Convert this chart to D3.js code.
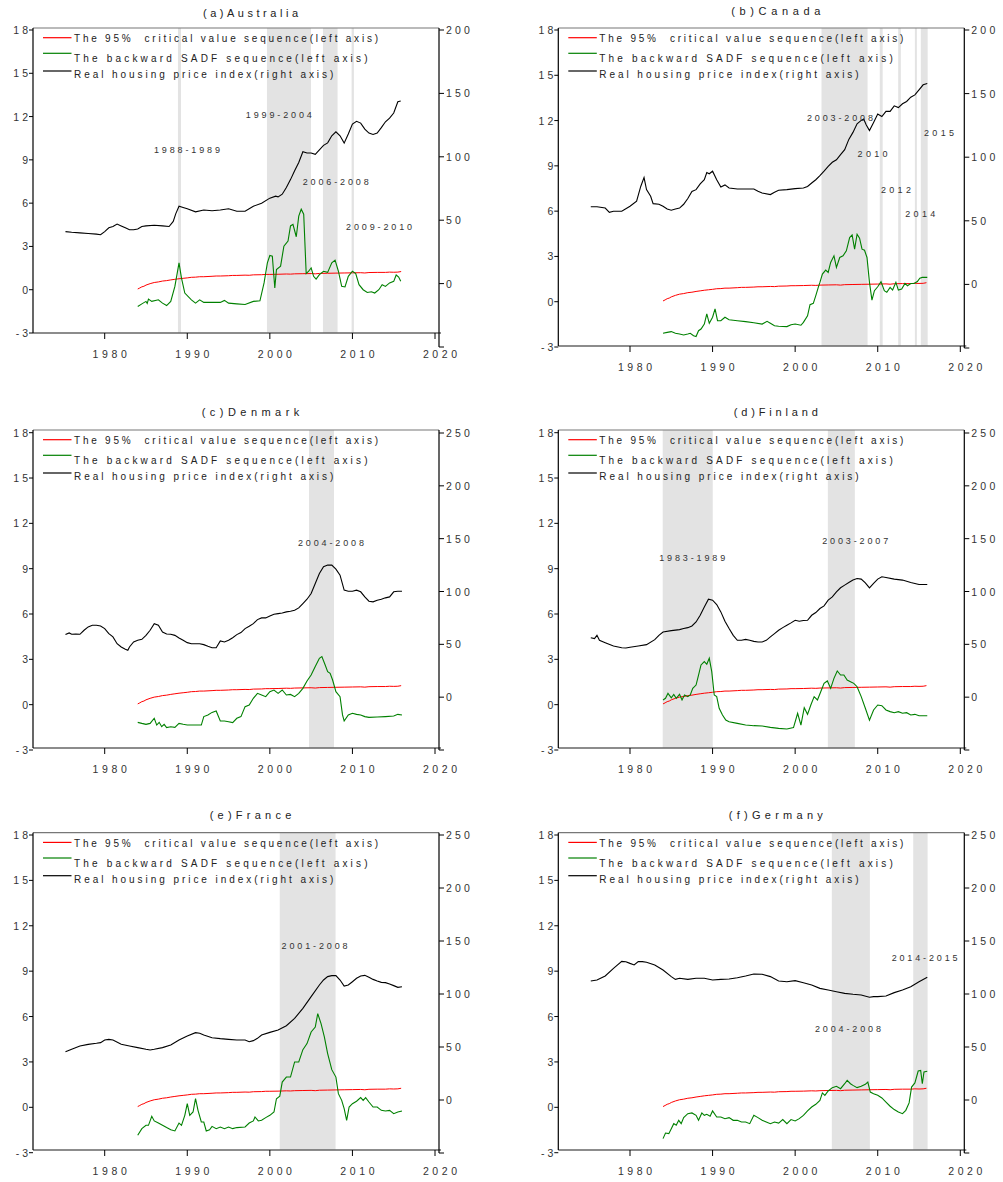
<!DOCTYPE html>
<html>
<head>
<meta charset="utf-8">
<script src="https://cdn.jsdelivr.net/npm/d3@7"></script>
<style>
  body { margin: 0; background: #fff; }
  svg { display: block; font-family: "Liberation Sans", Arial, sans-serif; }
  text { white-space: pre; }
</style>
</head>
<body>
<svg id="chart" width="1003" height="1182"></svg>
<script>
// ---- tick labels / legend ----
const xTicks = [1980, 1990, 2000, 2010, 2020];
const leftTicks = [-3, 0, 3, 6, 9, 12, 15, 18];
const rightTicks200 = [-50, 0, 50, 100, 150, 200];
const rightTicks250 = [-50, 0, 50, 100, 150, 200, 250];
const legendLabels = [
  "The 95%  critical value sequence(left axis)",
  "The backward SADF sequence(left axis)",
  "Real housing price index(right axis)"
];

// 95% critical value sequence (same sample length for every country)
const critical = [[1984,0.05],[1984.25,0.12],[1984.5,0.2],[1984.75,0.24],[1985,0.32],[1985.5,0.42],[1986,0.5],
  [1986.5,0.54],[1987,0.6],[1987.5,0.63],[1988,0.68],[1988.5,0.72],[1989,0.76],[1989.5,0.79],[1990,0.82],
  [1990.5,0.86],[1991,0.87],[1991.5,0.9],[1992,0.9],[1993,0.93],[1993.5,0.95],[1994,0.95],[1995,0.97],
  [1995.5,0.99],[1996,0.99],[1997,1.01],[1997.5,1.0],[1998,1.03],[1999,1.04],[1999.5,1.06],[2000,1.06],
  [2001,1.07],[2002,1.09],[2002.5,1.08],[2003,1.1],[2004,1.11],[2005,1.12],[2005.5,1.1],[2006,1.13],
  [2007,1.14],[2008,1.15],[2009,1.16],[2010,1.17],[2011,1.18],[2011.5,1.16],[2012,1.19],[2013,1.2],
  [2014,1.2],[2014.5,1.22],[2015,1.21],[2015.5,1.22],[2015.9,1.26]];

// ---- (a) Australia ----
const auPrice = [[1975.25,41],[1976,40.5],[1977,40],[1978,39.5],[1979,39],[1979.5,38.5],[1980,41],[1980.5,44],
  [1981,45],[1981.5,47],[1982,45.5],[1982.5,44],[1983,42.5],[1983.5,42.5],[1984,43],[1984.5,45],[1985,45.5],
  [1986,46],[1987,45.5],[1987.8,45],[1988.3,49],[1988.6,55],[1989,61],[1989.5,60],[1990,59],[1991,56.6],
  [1992,58],[1993,57.5],[1994,58],[1995,59],[1996,57],[1997,57],[1998,61],[1999,63.4],[2000,67.4],
  [2000.7,69],[2001,68.4],[2001.5,70.5],[2002,75.8],[2002.5,82],[2003,89],[2003.5,95.5],[2004,104],
  [2004.5,103],[2005,103],[2005.5,102],[2006,105.5],[2006.5,109],[2007,111],[2007.5,116.6],[2008,119.7],
  [2008.5,116.6],[2009,110.8],[2009.5,118],[2010,125.8],[2010.5,128],[2011,126.6],[2011.5,121.8],
  [2012,118.7],[2012.5,117.6],[2013,118.7],[2013.5,123],[2014,127.6],[2014.5,130.5],[2015,134.5],
  [2015.5,143.4],[2015.85,144]];
const auSadf = [[1984,-1.16],[1984.5,-0.98],[1985,-0.81],[1985.15,-0.95],[1985.3,-0.65],[1985.7,-0.81],
  [1986.5,-0.7],[1987,-0.93],[1987.5,-1.1],[1988,-0.81],[1988.5,0.23],[1989,1.86],[1989.3,0.8],
  [1989.7,-0.23],[1990.5,-0.7],[1991,-0.93],[1991.5,-0.7],[1992,-0.88],[1993,-0.88],[1994,-0.88],
  [1994.5,-0.74],[1995,-0.93],[1996,-0.98],[1997,-1.02],[1998,-0.81],[1998.8,-0.77],[1999.3,0.47],
  [1999.7,1.86],[2000,2.37],[2000.3,2.33],[2000.6,0.12],[2000.8,1.4],[2001.3,1.63],[2001.7,3.02],
  [2002.2,3.37],[2002.5,4.42],[2002.8,4.53],[2003.2,3.67],[2003.5,5.1],[2003.8,5.58],[2004.1,5.23],
  [2004.4,1.12],[2004.7,1.28],[2005,1.51],[2005.3,0.93],[2005.6,0.74],[2006,1.05],[2006.5,1.28],
  [2007,1.2],[2007.5,1.86],[2007.9,2.05],[2008.3,1.28],[2008.7,0.23],[2009.1,0.19],[2009.5,0.93],
  [2010,1.28],[2010.4,1.12],[2010.8,0.35],[2011.3,0],[2011.8,-0.19],[2012.3,-0.14],[2012.7,-0.23],
  [2013.2,0],[2013.6,0.35],[2014,0.23],[2014.5,0.47],[2015,0.58],[2015.3,1.02],[2015.6,0.88],[2015.85,0.58]];
const auBands = [[1988.87,1989.24],[1999.65,2004.98],[2006.43,2008.2],[2009.9,2010.18]];
const auNotes = [["1988-1989",1989.96,9.68],["1999-2004",2001.08,12.1],["2006-2008",2007.98,7.49],["2009-2010",2013.23,4.37]];

// ---- (b) Canada ----
const caPrice = [[1975.25,61],[1976,61],[1977,60],[1977.5,56.7],[1978,57.5],[1979,57.5],[1980,61.4],
  [1980.8,65.4],[1981.3,77],[1981.7,84],[1982,74.5],[1982.5,69.3],[1982.8,63.5],[1983.5,63],[1984,61.4],
  [1984.5,59.3],[1985,58.3],[1985.5,59.3],[1986,60],[1986.5,63],[1987,67.5],[1987.5,73],[1988,74.5],
  [1988.5,79],[1989,82.3],[1989.3,88],[1989.6,87],[1990,89],[1990.5,82.3],[1991,76.6],[1991.5,78.2],
  [1992,75.8],[1993,75],[1994,75],[1995,75],[1995.5,73.2],[1996,71.9],[1997,70.6],[1997.5,72.4],[1998,74],
  [1999,74.5],[2000,75.3],[2001,75.8],[2001.5,77],[2002,79.7],[2002.5,82.3],[2003,85.5],[2003.5,89],
  [2004,92.8],[2004.5,96],[2005,98],[2005.5,102],[2006,105.9],[2006.5,114],[2007,119.5],[2007.5,126.3],
  [2008,128.9],[2008.3,130],[2008.6,125.5],[2009,121],[2009.5,127.3],[2010,133.9],[2010.5,132],[2011,136],
  [2011.5,136],[2012,140.4],[2012.5,139],[2013,142],[2013.5,143.8],[2014,147.2],[2014.5,149],[2015,153],
  [2015.5,156.9],[2016,158]];
const caSadf = [[1984,-2.09],[1984.5,-2.03],[1985,-1.98],[1985.5,-2.09],[1986,-2.14],[1986.5,-2.2],
  [1987,-2.14],[1987.3,-2.09],[1987.7,-2.25],[1988,-2.31],[1988.3,-1.92],[1988.6,-1.81],[1989,-1.48],
  [1989.3,-0.81],[1989.6,-1.43],[1990,-1.03],[1990.3,-0.48],[1990.6,-1.26],[1991,-1.26],[1991.5,-1.03],
  [1992,-1.19],[1993,-1.26],[1994,-1.32],[1995,-1.39],[1996,-1.48],[1996.6,-1.3],[1997,-1.43],
  [1997.5,-1.59],[1998,-1.63],[1999,-1.65],[1999.5,-1.52],[2000,-1.48],[2000.7,-1.56],[2001,-1.37],
  [2001.5,-0.93],[2001.8,-0.2],[2002.2,-0.11],[2002.5,0.4],[2002.8,0.95],[2003,1.28],[2003.3,1.83],
  [2003.7,2.09],[2004,1.94],[2004.3,2.6],[2004.7,3.04],[2005,2.27],[2005.4,2.93],[2005.8,3.04],
  [2006.2,3.37],[2006.6,4.25],[2006.9,4.43],[2007.2,3.48],[2007.5,4.47],[2007.8,4.21],[2008.1,3.48],
  [2008.4,3.41],[2008.7,2.93],[2009,1.28],[2009.3,0.11],[2009.6,0.73],[2010,0.99],[2010.4,1.32],
  [2010.8,0.73],[2011.1,0.62],[2011.5,0.95],[2011.8,0.77],[2012.2,1.28],[2012.5,0.77],[2012.9,0.84],
  [2013.3,1.21],[2013.6,1.06],[2014,1.21],[2014.4,1.21],[2014.8,1.34],[2015.1,1.56],[2015.4,1.61],[2016,1.61]];
const caBands = [[2003.19,2008.77],[2010.25,2010.6],[2012.48,2012.8],[2014.5,2014.74],[2015.22,2016.05]];
const caNotes = [["2003-2008",2005.42,12.17],["2010",2009.38,9.78],["2012",2012.2,7.4],["2014",2015.15,5.83],["2015",2017.42,11.22]];

// ---- (c) Denmark ----
const dkPrice = [[1975.25,59.2],[1975.7,60.8],[1976,59.5],[1976.5,59.8],[1977,59.5],[1977.5,63.3],[1978,66.5],
  [1978.5,68],[1979,68],[1979.5,67.4],[1980,64.9],[1980.5,60.1],[1981,57],[1981.5,50.6],[1982,47.5],
  [1982.5,45.3],[1982.8,44.3],[1983,47.5],[1983.5,52.2],[1984,53.8],[1984.5,54.7],[1985,58.5],[1985.5,63.3],
  [1986,69.6],[1986.5,68],[1987,61.7],[1987.5,59.8],[1988,59.5],[1988.5,58.5],[1989,56],[1989.5,53.8],
  [1990,51.6],[1990.5,50.6],[1991.5,50.6],[1992,49.7],[1992.5,48.1],[1993,46.8],[1993.5,46.8],[1994,53.2],
  [1994.5,52.2],[1995,53.8],[1995.5,56.3],[1996,59.2],[1996.5,61.1],[1997,64.9],[1997.5,67.1],[1998,69.6],
  [1998.5,73.4],[1999,75],[1999.5,75],[2000,76.9],[2000.5,78.5],[2001,79.1],[2001.5,79.7],[2002,80.7],
  [2002.5,81.3],[2003,82.3],[2003.5,84.5],[2004,88.6],[2004.5,92.7],[2005,98.1],[2005.5,107.6],[2006,117],
  [2006.5,123.4],[2007,125],[2007.5,125],[2008,121.2],[2008.5,115.5],[2009,101.3],[2009.5,100.3],
  [2010,100.3],[2010.5,101.3],[2011,99.7],[2011.5,94.9],[2012,90.8],[2012.5,90.2],[2013,91.8],[2013.5,92.7],
  [2014,94],[2014.5,94.9],[2015,99.7],[2015.5,100.3],[2016,100.3]];
const dkSadf = [[1984,-1.17],[1984.5,-1.24],[1985,-1.3],[1985.5,-1.24],[1986,-0.9],[1986.3,-1.35],
  [1986.6,-1.17],[1986.9,-1.46],[1987.2,-1.3],[1987.5,-1.52],[1988,-1.46],[1988.5,-1.5],[1989,-1.24],
  [1989.5,-1.3],[1990,-1.35],[1991,-1.35],[1991.7,-1.35],[1992,-0.79],[1992.5,-0.68],[1993,-0.51],
  [1993.5,-0.42],[1994,-1.08],[1994.5,-1.08],[1995,-1.13],[1995.5,-1.19],[1996,-0.9],[1996.5,-0.79],
  [1997,-0.13],[1997.5,-0.02],[1998,0.42],[1998.5,0.75],[1999,0.64],[1999.5,0.53],[2000,0.86],[2000.5,0.97],
  [2001,0.75],[2001.5,0.97],[2002,0.64],[2002.5,0.68],[2003,0.53],[2003.5,0.75],[2004,1.08],[2004.5,1.57],
  [2005,1.96],[2005.5,2.52],[2006,3.07],[2006.3,3.18],[2006.7,2.63],[2007,2.19],[2007.3,2.08],[2007.6,1.63],
  [2008,0.86],[2008.5,0.53],[2008.8,-0.68],[2009,-1.08],[2009.5,-0.68],[2010,-0.57],[2010.5,-0.64],
  [2011,-0.68],[2011.5,-0.79],[2012,-0.84],[2013,-0.82],[2014,-0.79],[2015,-0.75],[2015.5,-0.64],[2016,-0.68]];
const dkBands = [[2004.74,2007.77]];
const dkNotes = [["2004-2008",2007.4,10.72]];

// ---- (d) Finland ----
const fiPrice = [[1975.25,56.3],[1975.7,55.4],[1976,58.5],[1976.3,53.8],[1977,51.6],[1978,48.4],[1979,46.8],
  [1979.5,46.5],[1980,47.2],[1981,48.4],[1982,49.7],[1983,54.4],[1983.5,58.5],[1984,61.7],[1985,63],
  [1986,63.9],[1986.5,64.9],[1987,65.8],[1987.5,67.4],[1988,71.2],[1988.5,77.5],[1989,85.4],[1989.5,92.7],
  [1990,91.8],[1990.5,87.7],[1991,80.7],[1991.5,71.8],[1992,64.9],[1992.5,58.5],[1993,53.8],[1993.5,53.8],
  [1994,54.7],[1994.5,53.8],[1995,52.8],[1995.5,52.2],[1996,52.2],[1996.5,53.8],[1997,57],[1997.5,60.1],
  [1998,63.3],[1998.5,65.8],[1999,68],[1999.5,70.3],[2000,72.8],[2000.5,71.8],[2001,72.5],[2001.5,72.8],
  [2002,77.5],[2002.5,80.1],[2003,83.9],[2003.5,86.4],[2004,91.8],[2004.5,94.9],[2005,99.7],[2005.5,103.5],
  [2006,106],[2006.5,108.5],[2007,110.8],[2007.5,112.3],[2008,111.7],[2008.5,108.2],[2009,103.5],
  [2009.5,107.6],[2010,111.7],[2010.5,113.9],[2011,113.3],[2012,111.7],[2013,110.8],[2014,108.5],
  [2015,106.6],[2016,106.6]];
const fiSadf = [[1984,0.31],[1984.3,0.42],[1984.6,0.75],[1985,0.46],[1985.3,0.68],[1985.6,0.42],[1986,0.68],
  [1986.3,0.31],[1986.6,0.64],[1987,0.53],[1987.3,0.64],[1987.6,1.08],[1988,1.3],[1988.3,1.96],[1988.6,2.63],
  [1989,2.85],[1989.3,2.67],[1989.6,3.07],[1989.9,2.19],[1990.2,0.64],[1990.5,0.53],[1990.8,-0.24],
  [1991.2,-0.68],[1991.6,-1.02],[1992,-1.13],[1993,-1.24],[1994,-1.35],[1995,-1.39],[1996,-1.41],[1997,-1.5],
  [1998,-1.57],[1999,-1.61],[1999.8,-1.52],[2000.3,-0.57],[2000.7,-1.35],[2001.1,-0.2],[2001.5,-0.64],
  [2001.9,-0.02],[2002.3,0.53],[2002.7,0.31],[2003.1,0.86],[2003.5,1.41],[2003.9,1.57],[2004.3,1.08],
  [2004.7,1.74],[2005.1,2.23],[2005.5,1.96],[2005.9,1.96],[2006.3,1.63],[2006.7,1.52],[2007.1,1.41],
  [2007.5,1.19],[2008,0.53],[2008.5,-0.24],[2009,-1.02],[2009.5,-0.35],[2010,-0.02],[2010.5,-0.07],
  [2011,-0.35],[2011.5,-0.46],[2012,-0.53],[2012.5,-0.46],[2013,-0.57],[2013.5,-0.53],[2014,-0.68],
  [2014.5,-0.64],[2015,-0.73],[2016,-0.73]];
const fiBands = [[1983.96,1990.02],[2003.96,2007.23]];
const fiNotes = [["1983-1989",1987.54,9.73],["2003-2007",2007.27,10.85]];

// ---- (e) France ----
const frPrice = [[1975.25,45.6],[1976,47.8],[1977,50.9],[1978,52.5],[1979,53.5],[1979.5,54.1],[1980,56.6],
  [1980.5,57.2],[1981,56.6],[1982,52.5],[1983,50.9],[1984,49.4],[1985,47.8],[1985.5,47.2],[1986,47.8],
  [1987,49.4],[1988,51.9],[1989,56.6],[1990,60.4],[1991,63.5],[1991.5,62.9],[1992,61.3],[1993,58.8],
  [1994,57.9],[1995,57.2],[1996,56.6],[1997,56.6],[1997.5,55],[1998,56],[1998.5,58.2],[1999,61.3],
  [2000,63.8],[2001,66],[2002,70.1],[2003,77],[2004,86.5],[2005,97.5],[2006,108.5],[2006.5,113.2],
  [2007,116.4],[2007.5,117.3],[2008,117.3],[2008.5,113.2],[2009,107.5],[2009.5,108.5],[2010,111.6],
  [2010.5,114.8],[2011,117],[2011.5,117.6],[2012,115.7],[2012.5,113.8],[2013,112.3],[2013.5,111],
  [2014,110.7],[2014.5,109.4],[2015,107.9],[2015.5,106.3],[2016,106.9]];
const frSadf = [[1984,-1.85],[1984.5,-1.41],[1985,-1.19],[1985.3,-1.19],[1985.7,-0.59],[1986,-0.9],
  [1986.5,-1.04],[1987,-1.19],[1987.5,-1.34],[1988,-1.48],[1988.5,-1.56],[1989,-1.04],[1989.3,-1.19],
  [1989.7,-0.53],[1990,0.24],[1990.3,-0.53],[1990.7,-0.31],[1991,0.57],[1991.3,-0.2],[1991.7,-0.97],
  [1992,-0.97],[1992.3,-1.56],[1992.7,-1.48],[1993,-1.26],[1993.5,-1.41],[1994,-1.3],[1994.5,-1.41],
  [1995,-1.3],[1995.5,-1.41],[1996,-1.34],[1997,-1.3],[1997.5,-1.04],[1998,-0.9],[1998.2,-0.64],
  [1998.6,-0.9],[1999,-0.86],[1999.5,-0.68],[2000,-0.53],[2000.5,-0.31],[2000.8,0.57],[2001.2,0.73],
  [2001.5,1.67],[2002,2.0],[2002.5,2.0],[2003,3.0],[2003.5,3.0],[2004,3.81],[2004.5,4.21],[2005,4.98],
  [2005.5,5.31],[2005.8,6.19],[2006.2,5.53],[2006.6,4.65],[2007,3.55],[2007.5,2.49],[2008,2.0],[2008.3,0.9],
  [2008.7,0.46],[2009,-0.09],[2009.3,-0.86],[2009.6,0.02],[2010,0.24],[2010.5,0.4],[2011,0.64],[2011.3,0.46],
  [2011.6,0.64],[2012,0.35],[2012.5,0.02],[2013,0.02],[2013.5,-0.2],[2014,-0.24],[2014.5,-0.2],
  [2015,-0.42],[2015.5,-0.31],[2016,-0.24]];
const frBands = [[2001.2,2007.96]];
const frNotes = [["2001-2008",2005.42,10.68]];

// ---- (f) Germany ----
const dePrice = [[1975.25,112.3],[1976,113.2],[1977,117],[1978,124.2],[1979,130.8],[1979.5,130.5],[1980,128.9],
  [1980.5,127.4],[1981,130.5],[1981.5,130.5],[1982,129.9],[1983,127.4],[1984,122.6],[1985,116.4],
  [1985.5,113.8],[1986,114.8],[1987,113.8],[1988,114.8],[1989,114.8],[1990,113.2],[1991,113.8],[1992,114.2],
  [1993,115.4],[1994,117],[1995,118.9],[1996,118.6],[1997,116.4],[1998,112.3],[1999,111.6],[2000,112.6],
  [2001,110.7],[2002,108.5],[2003,105.3],[2004,103.8],[2005,102.2],[2006,100.6],[2007,99.7],[2008,99.1],
  [2009,96.9],[2009.5,97.5],[2010,97.5],[2011,98.1],[2012,101.3],[2013,103.8],[2014,106.9],[2015,111.6],
  [2016,115.7]];
const deSadf = [[1984,-2.07],[1984.3,-1.7],[1984.7,-1.74],[1985,-1.41],[1985.3,-1.08],[1985.6,-1.19],
  [1985.9,-0.86],[1986.2,-1.08],[1986.5,-0.68],[1987,-0.42],[1987.5,-0.37],[1988,-0.53],[1988.3,-0.86],
  [1988.7,-0.37],[1989,-0.53],[1989.3,-0.46],[1989.7,-0.59],[1990,-0.24],[1990.5,-0.64],[1991,-0.64],
  [1991.5,-0.75],[1992,-0.68],[1992.5,-0.86],[1993,-0.86],[1993.5,-0.97],[1994,-0.97],[1994.5,-1.08],
  [1995,-0.53],[1995.5,-0.68],[1996,-0.86],[1996.5,-0.97],[1997,-1.08],[1997.5,-0.97],[1998,-1.04],
  [1998.5,-0.81],[1999,-1.08],[1999.5,-0.81],[2000,-0.9],[2000.5,-0.75],[2001,-0.53],[2001.5,-0.24],
  [2002,0.02],[2002.5,0.2],[2003,0.46],[2003.3,0.95],[2003.6,0.79],[2004,1.08],[2004.5,1.3],[2005,1.39],
  [2005.5,1.23],[2006,1.56],[2006.3,1.78],[2006.7,1.56],[2007,1.45],[2007.5,1.3],[2008,1.39],[2008.5,1.52],
  [2008.8,1.67],[2009.1,1.01],[2009.5,0.9],[2010,0.79],[2010.5,0.62],[2011,0.35],[2011.5,0.07],
  [2012,-0.15],[2012.5,-0.31],[2013,-0.42],[2013.4,-0.2],[2013.8,0.29],[2014.1,1.34],[2014.5,1.61],
  [2014.9,2.4],[2015.2,2.44],[2015.4,1.56],[2015.6,2.33],[2016,2.38]];
const deBands = [[2004.44,2009.05],[2014.3,2016.04]];
const deNotes = [["2004-2008",2006.39,5.18],["2014-2015",2015.68,9.87]];

// ---- panels ----
const panels = [
  {title: "(a)Australia", price: auPrice, sadf: auSadf, bands: auBands, notes: auNotes, rTicks: rightTicks200},
  {title: "(b)Canada", price: caPrice, sadf: caSadf, bands: caBands, notes: caNotes, rTicks: rightTicks200},
  {title: "(c)Denmark", price: dkPrice, sadf: dkSadf, bands: dkBands, notes: dkNotes, rTicks: rightTicks250},
  {title: "(d)Finland", price: fiPrice, sadf: fiSadf, bands: fiBands, notes: fiNotes, rTicks: rightTicks250},
  {title: "(e)France", price: frPrice, sadf: frSadf, bands: frBands, notes: frNotes, rTicks: rightTicks250},
  {title: "(f)Germany", price: dePrice, sadf: deSadf, bands: deBands, notes: deNotes, rTicks: rightTicks250}
];

// frame geometry in px for each panel
const layout = [
  {left: 33,    top: 28,    bottom: 333,  yl: [333, 30],      yr: [347, 30],      titleY: 13,    titleW: 95},
  {left: 558.3, top: 28,    bottom: 346,  yl: [347, 30],      yr: [348, 30],      titleY: 11,    titleW: 89},
  {left: 33,    top: 430,   bottom: 748,  yl: [750, 432.7],   yr: [750, 433],     titleY: 412.3, titleW: 97.6},
  {left: 558.3, top: 430,   bottom: 748,  yl: [750, 432.7],   yr: [750, 433],     titleY: 412.3, titleW: 84},
  {left: 33,    top: 832.7, bottom: 1150, yl: [1152.7, 835],  yr: [1153, 835],    titleY: 815,   titleW: 81.7},
  {left: 558.3, top: 832.7, bottom: 1150, yl: [1152.7, 835],  yr: [1153, 835],    titleY: 815,   titleW: 94}
];
const W = 406;
const legendW = [304, 293.5, 259.3];
const colors = {crit: "#ff0000", sadf: "#008000", price: "#000000", band: "#e3e3e3", text: "#222"};

const svg = d3.select("#chart");

// spread the glyphs of a text element so that its ink spans `target` px
function spread(sel, target) {
  sel.each(function () {
    const n = this.textContent.length;
    const nat = this.getComputedTextLength();
    d3.select(this).attr("letter-spacing", ((target - nat) / (n - 1)).toFixed(3));
  });
}

panels.forEach((p, i) => {
  const L = layout[i];
  const right = L.left + W;
  const g = svg.append("g");

  const x = d3.scaleLinear().domain([1980, 2020]).range([L.left + 71.7, L.left + 402]);
  const yL = d3.scaleLinear().domain([-3, 18]).range(L.yl);
  const rMax = d3.max(p.rTicks);
  const yR = d3.scaleLinear().domain([-50, rMax]).range(L.yr);

  // shaded bubble periods
  g.selectAll(".band").data(p.bands).enter().append("rect")
    .attr("x", d => x(d[0]))
    .attr("width", d => x(d[1]) - x(d[0]))
    .attr("y", L.top)
    .attr("height", L.bottom - L.top)
    .attr("fill", colors.band);

  // frame: top and bottom grey
  g.append("line").attr("x1", L.left).attr("x2", right).attr("y1", L.top).attr("y2", L.top)
    .attr("stroke", "#777").attr("stroke-width", 1.2);
  g.append("line").attr("x1", L.left).attr("x2", right + 2).attr("y1", L.bottom).attr("y2", L.bottom)
    .attr("stroke", "#666").attr("stroke-width", 1.4);

  // x axis ticks + labels
  g.selectAll(".xt").data(xTicks).enter().append("line")
    .attr("x1", d => x(d)).attr("x2", d => x(d))
    .attr("y1", L.bottom).attr("y2", L.bottom + 6)
    .attr("stroke", "#000").attr("stroke-width", 1);
  g.selectAll(".xl").data(xTicks).enter().append("text")
    .attr("x", d => x(d) + 6.8).attr("y", L.bottom + 25)
    .attr("text-anchor", "middle").attr("font-size", 10.5).attr("letter-spacing", 3.6)
    .attr("fill", "#333").text(d => d);

  // left axis
  g.append("line").attr("x1", L.left).attr("x2", L.left).attr("y1", L.top).attr("y2", L.bottom)
    .attr("stroke", "#000").attr("stroke-width", 1.2);
  g.selectAll(".lt").data(leftTicks).enter().append("line")
    .attr("x1", L.left - 4).attr("x2", L.left)
    .attr("y1", d => yL(d)).attr("y2", d => yL(d))
    .attr("stroke", "#000");
  g.selectAll(".ll").data(leftTicks).enter().append("text")
    .attr("x", L.left - 2).attr("y", d => yL(d) + 4)
    .attr("text-anchor", "end").attr("font-size", 10.5).attr("letter-spacing", 3)
    .attr("fill", "#333").text(d => d);

  // right axis
  g.append("line").attr("x1", right).attr("x2", right).attr("y1", L.top).attr("y2", yR(-50))
    .attr("stroke", "#000").attr("stroke-width", 1.2);
  g.selectAll(".rt").data(p.rTicks).enter().append("line")
    .attr("x1", right).attr("x2", right + 5)
    .attr("y1", d => yR(d)).attr("y2", d => yR(d))
    .attr("stroke", "#000");
  g.selectAll(".rl").data(p.rTicks.filter(d => d >= 0)).enter().append("text")
    .attr("x", right + 7).attr("y", d => yR(d) + 4)
    .attr("font-size", 10.5).attr("letter-spacing", 3.2)
    .attr("fill", "#333").text(d => d);

  // series
  const lineL = d3.line().x(d => x(d[0])).y(d => yL(d[1]));
  const lineR = d3.line().x(d => x(d[0])).y(d => yR(d[1]));
  const endYear = d3.max(p.price, d => d[0]);
  g.append("path").datum(critical.filter(d => d[0] <= endYear + 0.1)).attr("d", lineL)
    .attr("fill", "none").attr("stroke", colors.crit).attr("stroke-width", 1);
  g.append("path").datum(p.sadf).attr("d", lineL)
    .attr("fill", "none").attr("stroke", colors.sadf).attr("stroke-width", 1.1);
  g.append("path").datum(p.price).attr("d", lineR)
    .attr("fill", "none").attr("stroke", colors.price).attr("stroke-width", 1.1);

  // period labels
  p.notes.forEach(d => {
    const w = d[0].length > 4 ? 66 : 30;
    g.append("text")
      .attr("x", x(d[1]) - w / 2).attr("y", yL(d[2]) + 3.3)
      .attr("font-size", 9).attr("fill", "#333").text(d[0])
      .call(spread, w);
  });

  // legend
  const legColors = [colors.crit, colors.sadf, colors.price];
  const lineYs = [9.7, 25.3, 43];
  const textYs = [10.3, 30.3, 46];
  legendLabels.forEach((lab, k) => {
    g.append("line")
      .attr("x1", L.left + 10).attr("x2", L.left + 38.5)
      .attr("y1", L.top + lineYs[k]).attr("y2", L.top + lineYs[k])
      .attr("stroke", legColors[k]).attr("stroke-width", 1.2);
    g.append("text")
      .attr("x", L.left + 41).attr("y", L.top + textYs[k] + 3.8)
      .attr("font-size", 10).attr("fill", colors.text).text(lab)
      .call(spread, legendW[k]);
  });

  // title
  g.append("text")
    .attr("x", L.left + 217.5 - L.titleW / 2).attr("y", L.titleY + 4)
    .attr("font-size", 11).attr("fill", colors.text).text(p.title)
    .call(spread, L.titleW);
});
</script>
</body>
</html>
